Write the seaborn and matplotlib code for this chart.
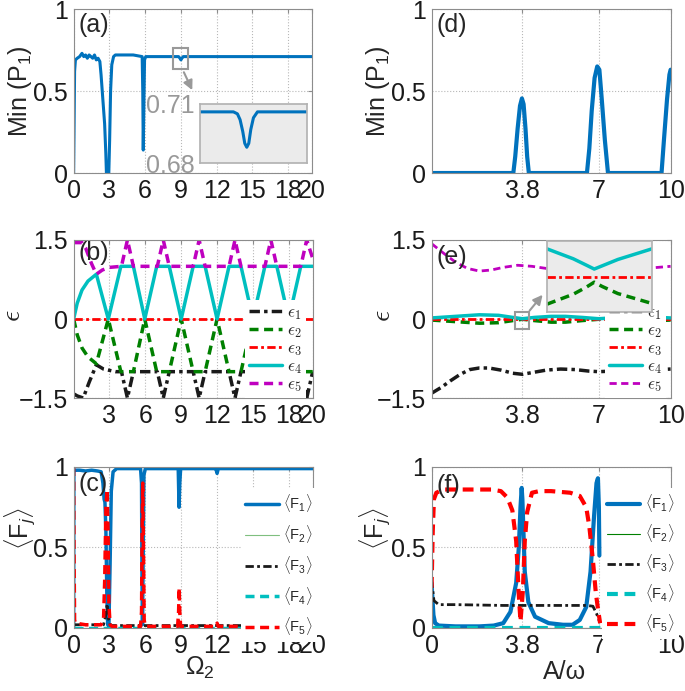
import matplotlib
matplotlib.use("Agg")
import matplotlib.pyplot as plt
from matplotlib.patches import Rectangle
import seaborn as sns

# ---------------- (a) Min(P1) versus Omega_2 ----------------
omega_a = [0, 0.04, 0.08, 0.15, 0.3, 0.5, 0.7, 0.85, 1.0, 1.15, 1.3, 1.45, 1.6, 1.75, 1.9, 2.05,
           2.2, 2.3, 2.45, 2.6, 2.7, 2.75, 2.95, 3.02, 3.1, 3.2, 3.35, 3.5, 4.0, 5.0, 5.75, 5.8,
           5.84, 5.9, 5.95, 6.05, 6.3, 8.8, 8.92, 9.0, 9.08, 9.2, 20]
minp1_a = [0, 0.3, 0.62, 0.69, 0.70, 0.71, 0.73, 0.71, 0.72, 0.70, 0.72, 0.71, 0.70, 0.72, 0.69, 0.70,
           0.68, 0.6, 0.45, 0.3, 0.12, 0.0, 0.0, 0.2, 0.5, 0.66, 0.71, 0.72, 0.72, 0.72, 0.71, 0.5,
           0.14, 0.45, 0.69, 0.71, 0.71, 0.71, 0.70, 0.69, 0.70, 0.71, 0.71]
# inset: zoom on the dip near Omega_2 = 9
omega_ins_a = [8.65, 8.90, 8.93, 8.95, 8.97, 8.985, 9.0, 9.015, 9.03, 9.05, 9.08, 9.45]
minp1_ins_a = [0.706, 0.706, 0.705, 0.702, 0.696, 0.690, 0.688, 0.690, 0.697, 0.703, 0.706, 0.706]

# ---------------- (d) Min(P1) versus A/omega ----------------
aw_d = [0, 3.42, 3.5, 3.6, 3.7, 3.78, 3.85, 3.93, 4.0, 4.07, 6.5, 6.6, 6.7, 6.82, 6.93, 7.02,
        7.12, 7.25, 7.38, 9.62, 9.72, 9.85, 9.95, 10]
minp1_d = [0, 0, 0.1, 0.27, 0.41, 0.455, 0.42, 0.27, 0.1, 0, 0, 0.15, 0.38, 0.58, 0.65, 0.63,
           0.45, 0.2, 0, 0, 0.2, 0.45, 0.6, 0.63]

# ---------------- (b) quasienergies versus Omega_2 ----------------
omega_b1 = [0, 0.3, 0.8, 1.3, 1.9, 2.5, 3.5, 4.0, 4.5, 5.0, 7.0, 7.5, 8.0, 10.0, 10.5, 11.0,
            13.0, 13.5, 14.0, 16.0, 16.5, 17.0, 19.0, 19.5, 20]
eps1_b = [-1.42, -1.46, -1.5, -1.2, -0.87, -0.95, -1.0, -1.0, -1.5, -1.0, -1.0, -1.5, -1.0, -1.0, -1.5, -1.0,
          -1.0, -1.5, -1.0, -1.0, -1.5, -1.0, -1.0, -1.5, -1.0]
omega_b2 = [0, 0.3, 0.7, 1.2, 1.9, 2.9, 3.95, 5.0, 5.95, 6.95, 8.0, 9.0, 10.0, 11.0, 12.0, 13.0,
            14.0, 15.0, 16.0, 17.0, 18.0, 19.0, 20]
eps2_b = [0, -0.3, -0.55, -0.72, -0.85, 0, -1.0, -1.0, 0, -1.0, -1.0, 0, -1.0, -1.0, 0, -1.0,
          -1.0, 0, -1.0, -1.0, 0, -1.0, -1.0]
omega_b3 = [0, 20]
eps3_b = [0, 0]
omega_b4 = [0, 0.3, 0.7, 1.2, 1.9, 2.9, 3.95, 5.0, 5.95, 6.95, 8.0, 9.0, 10.0, 11.0, 12.0, 13.0,
            14.0, 15.0, 16.0, 17.0, 18.0, 19.0, 20]
eps4_b = [0, 0.3, 0.55, 0.72, 0.85, 0, 1.0, 1.0, 0, 1.0, 1.0, 0, 1.0, 1.0, 0, 1.0,
          1.0, 0, 1.0, 1.0, 0, 1.0, 1.0]
omega_b5 = [0, 0.7, 1.0, 1.5, 1.9, 2.4, 3.0, 4.0, 4.5, 5.0, 7.0, 7.5, 8.0, 10.0, 10.5, 11.0,
            13.0, 13.5, 14.0, 16.0, 16.5, 17.0, 19.0, 19.5, 20]
eps5_b = [1.45, 1.45, 1.35, 1.05, 0.85, 0.93, 0.98, 1.0, 1.5, 1.0, 1.0, 1.5, 1.0, 1.0, 1.5, 1.0,
          1.0, 1.5, 1.0, 1.0, 1.5, 1.0, 1.0, 1.5, 1.15]

# ---------------- (e) quasienergies versus A/omega ----------------
aw_e1 = [0, 0.4, 0.8, 1.2, 1.6, 2.0, 2.4, 2.9, 3.4, 3.8, 4.3, 4.8, 5.4, 6.0, 6.6, 7.0,
         7.5, 8.5, 9.5, 10]
eps1_e = [-1.41, -1.3, -1.17, -1.05, -0.96, -0.93, -0.93, -0.97, -1.03, -1.05, -1.01, -0.97, -0.95, -0.96, -0.99, -1.0,
          -0.99, -0.97, -0.96, -0.95]
aw_e2 = [0, 1, 2, 2.8, 3.4, 3.8, 4.3, 5.0, 5.6, 6.3, 7.0, 7.5, 8.5, 9.5, 10]
eps2_e = [-0.02, -0.05, -0.08, -0.07, -0.03, -0.005, -0.03, -0.06, -0.06, -0.03, -0.005, -0.02, -0.04, -0.03, -0.02]
aw_e3 = [0, 10]
eps3_e = [0, 0]
aw_e4 = [0, 1, 2, 2.8, 3.4, 3.8, 4.3, 5.0, 5.6, 6.3, 7.0, 7.5, 8.5, 9.5, 10]
eps4_e = [0.02, 0.05, 0.08, 0.07, 0.03, 0.005, 0.03, 0.05, 0.05, 0.03, 0.005, 0.02, 0.04, 0.03, 0.02]
aw_e5 = [0, 0.5, 1.0, 1.5, 2.0, 2.5, 3.0, 3.6, 4.2, 4.8, 5.5, 6.2, 7.0, 7.8, 8.5, 9.2, 10]
eps5_e = [1.43, 1.25, 1.08, 0.96, 0.91, 0.93, 0.98, 1.02, 1.0, 0.96, 0.93, 0.95, 0.99, 0.98, 0.96, 0.97, 1.0]
# inset: avoided crossing near A/omega = 3.8
aw_ins_e = [3.6, 3.7, 3.75, 3.78, 3.81, 3.87, 4.0]
eps4_ins_e = [0.0078, 0.0050, 0.0032, 0.0021, 0.0030, 0.0048, 0.0078]
eps3_ins_e = [0, 0, 0, 0, 0, 0, 0]
eps2_ins_e = [-0.0078, -0.0050, -0.0030, -0.0016, -0.0028, -0.0048, -0.0076]

# ---------------- (c) time averaged populations versus Omega_2 ----------------
omega_c1 = [0, 0.02, 0.1, 0.5, 1.0, 1.5, 2.0, 2.3, 2.45, 2.55, 2.62, 2.7, 2.78, 2.85, 2.95, 3.05,
            3.15, 3.3, 3.6, 5.6, 5.68, 5.72, 5.76, 5.8, 5.88, 6.0, 8.75, 8.82, 8.88, 8.95, 11.8, 11.9,
            12.0, 12.1, 20]
f1_c = [0, 0.97, 0.98, 0.98, 0.975, 0.98, 0.975, 0.97, 0.9, 0.8, 0.78, 0.6, 0.2, 0.02, 0.01, 0.4,
        0.85, 0.97, 0.99, 0.99, 0.9, 0.3, 0.02, 0.3, 0.95, 0.99, 0.99, 0.75, 0.9, 0.99, 0.99, 0.99,
        0.96, 0.99, 0.99]
omega_c2 = [0, 20]
f2_c = [0, 0]
omega_c3 = [0, 2.5, 2.7, 2.8, 2.9, 3.1, 20]
f3_c = [0.02, 0.02, 0.08, 0.15, 0.06, 0.015, 0.015]
omega_c4 = [0, 20]
f4_c = [0.002, 0.002]
omega_c5 = [0, 0.03, 0.08, 0.15, 1.0, 2.3, 2.5, 2.6, 2.7, 2.8, 2.88, 2.95, 3.05, 3.2, 5.6, 5.68,
            5.73, 5.78, 5.84, 5.9, 6.0, 8.7, 8.78, 8.83, 8.88, 8.95, 11.9, 12.0, 12.1, 20]
f5_c = [1.0, 0.5, 0.05, 0.03, 0.02, 0.02, 0.05, 0.3, 0.75, 0.86, 0.6, 0.15, 0.02, 0.01, 0.01, 0.1,
        0.6, 0.9, 0.5, 0.05, 0.01, 0.01, 0.1, 0.25, 0.1, 0.01, 0.01, 0.03, 0.01, 0.01]

# ---------------- (f) time averaged populations versus A/omega ----------------
aw_f1a = [0, 0.03, 0.08, 0.15, 0.3, 1.0, 2.0, 2.6, 3.0, 3.3, 3.54, 3.65, 3.72, 3.77, 3.8, 3.84,
          3.9, 4.05, 4.33, 4.9, 5.5, 5.9, 6.2, 6.47, 6.65, 6.8, 6.9, 6.96, 7.0, 7.02]
f1_fa = [0.28, 0.2, 0.08, 0.03, 0.015, 0.01, 0.01, 0.015, 0.03, 0.1, 0.28, 0.5, 0.75, 0.87, 0.8, 0.62,
         0.35, 0.16, 0.07, 0.03, 0.02, 0.02, 0.05, 0.13, 0.35, 0.7, 0.9, 0.93, 0.75, 0.45]
aw_f1b = [7.38, 7.5, 7.73, 8.0, 8.3, 9.0, 9.4, 9.62]
f1_fb = [0.1, 0.07, 0.04, 0.03, 0.02, 0.02, 0.05, 0.1]
aw_f1c = [9.96, 10]
f1_fc = [0.47, 0.62]
aw_f2 = [0, 10]
f2_f = [0, 0]
aw_f3 = [0, 0.1, 0.3, 1.0, 3.0, 5.0, 6.5, 6.75, 6.9, 7.05]
f3_f = [0.3, 0.17, 0.145, 0.145, 0.14, 0.14, 0.14, 0.135, 0.09, 0.03]
aw_f4 = [0, 10]
f4_f = [0, 0]
aw_f5a = [0, 0.05, 0.1, 0.2, 0.5, 1.5, 2.5, 2.9, 3.17, 3.38, 3.54, 3.64, 3.72, 3.82, 3.9, 4.0,
          4.2, 4.5, 5.0, 5.8, 6.2, 6.47, 6.6, 6.75, 6.87, 6.96, 7.05]
f5_fa = [0.25, 0.6, 0.8, 0.84, 0.86, 0.86, 0.86, 0.85, 0.81, 0.73, 0.54, 0.23, 0.04, 0.23, 0.54, 0.72,
         0.84, 0.85, 0.85, 0.84, 0.82, 0.75, 0.63, 0.42, 0.22, 0.12, 0.03]
aw_f5b = [9.97, 10]
f5_fb = [0.03, 0.55]

blue = "#0072BD"
green = "#008000"
red = "#FF0000"
cyan = "#00BFBF"
magenta = "#BF00BF"
pale_green = "#7fbf7f"
grey = "0.6"

sns.set_theme(style="white")
plt.rcParams["font.family"] = ["Liberation Sans", "DejaVu Sans"]
plt.rcParams["mathtext.fontset"] = "custom"
plt.rcParams["mathtext.rm"] = "Liberation Sans"
plt.rcParams["mathtext.it"] = "Liberation Sans:italic"
plt.rcParams["mathtext.bf"] = "Liberation Sans:bold"

DASH = (0, (2.6, 1.6))
DASHDOT = (0, (3, 1.2, 1, 1.2))
TICKSIZE = 18
LABELSIZE = 18


def line(ax, x, y, **kw):
    sns.lineplot(x=x, y=y, ax=ax, estimator=None, sort=False, **kw)


def style(ax, xlim, xticks, xlabels, ylim, yticks, ylabels):
    ax.set_xlim(xlim)
    ax.set_ylim(ylim)
    ax.set_xticks(xticks, labels=xlabels)
    ax.set_yticks(yticks, labels=ylabels)
    ax.grid(True, linestyle=":", color="0.72", linewidth=0.8)
    for s in ax.spines.values():
        s.set_color("0.55")
        s.set_linewidth(0.8)
    ax.tick_params(direction="in", length=3, width=0.8, color="0.55", labelsize=TICKSIZE,
                   pad=4, top=True, right=True, labelcolor="0.1")


def panel(ax, txt, y):
    ax.text(0.02, y, txt, transform=ax.transAxes, fontsize=LABELSIZE, va="center", ha="left")


def eps_legend(ax, x0):
    ax.legend(loc="lower left", bbox_to_anchor=(x0, 0.0), prop=dict(size=12.5, math_fontfamily="cm"),
              handlelength=1.9, handletextpad=0.3, labelspacing=0.05, borderpad=0.25, borderaxespad=0,
              frameon=True, facecolor="white", edgecolor="none", framealpha=1, fancybox=False)


def pop_legend(ax, x0, spacing):
    ax.legend(loc="upper left", bbox_to_anchor=(x0, 0.87), prop=dict(size=10.5),
              handlelength=2.3, handletextpad=0.3, labelspacing=spacing, borderpad=0.3, borderaxespad=0,
              frameon=True, facecolor="white", edgecolor="none", framealpha=1, fancybox=False)


fig = plt.figure(figsize=(6.85, 6.91), dpi=100)
L, R, W = 0.1075, 0.6300, 0.349
ax_a = fig.add_axes([L, 0.7496, W - 0.001, 0.2373])
ax_d = fig.add_axes([R, 0.7496, W, 0.2373])
ax_b = fig.add_axes([L, 0.4240, W, 0.2287])
ax_e = fig.add_axes([R, 0.4240, W, 0.2287])
ax_c = fig.add_axes([L, 0.0912, W, 0.2330])
ax_f = fig.add_axes([R, 0.0912, W, 0.2330])

om_ticks = [0, 3, 6, 9, 12, 15, 18, 20]
aw_ticks = [3.8, 7, 10]

# ---- (a)
line(ax_a, omega_a, minp1_a, color=blue, linewidth=2.2)
style(ax_a, (0, 20), om_ticks, [str(t) for t in om_ticks], (0, 1), [0, 0.5, 1], ["0", "0.5", "1"])
ax_a.set_ylabel("Min (P$_1$)", fontsize=LABELSIZE)
ax_a.yaxis.set_label_coords(-0.165, 0.5)
panel(ax_a, "(a)", 0.9)
ax_a.add_patch(Rectangle((8.35, 0.634), 1.25, 0.126, fill=False, edgecolor=grey, linewidth=1.5, zorder=5))
ax_a.annotate("", xy=(10.05, 0.49), xytext=(9.15, 0.63),
              arrowprops=dict(arrowstyle="-|>", color=grey, lw=1.5, mutation_scale=14))
ins_a = fig.add_axes([0.292, 0.7641, 0.156, 0.0854])
line(ins_a, omega_ins_a, minp1_ins_a, color=blue, linewidth=2.2)
ins_a.set_facecolor("#ebebeb")
ins_a.set_xlim(8.65, 9.45)
ins_a.set_ylim(0.68, 0.71)
ins_a.set_xticks([])
ins_a.set_yticks([0.68, 0.71], labels=["0.68", "0.71"])
ins_a.tick_params(length=0, pad=4, labelsize=LABELSIZE, labelcolor=grey)
for s in ins_a.spines.values():
    s.set_color("0.7")

# ---- (d)
line(ax_d, aw_d, minp1_d, color=blue, linewidth=3)
style(ax_d, (0, 10), aw_ticks, ["3.8", "7", "10"], (0, 1), [0, 0.5, 1], ["0", "0.5", "1"])
ax_d.set_ylabel("Min (P$_1$)", fontsize=LABELSIZE)
ax_d.yaxis.set_label_coords(-0.165, 0.5)
panel(ax_d, "(d)", 0.9)

# ---- (b)
line(ax_b, omega_b1, eps1_b, color="k", linewidth=2.5, linestyle=DASHDOT, label=r"$\epsilon_1$")
line(ax_b, omega_b2, eps2_b, color=green, linewidth=2.5, linestyle=DASH, label=r"$\epsilon_2$")
line(ax_b, omega_b3, eps3_b, color=red, linewidth=2, linestyle=DASHDOT, label=r"$\epsilon_3$")
line(ax_b, omega_b4, eps4_b, color=cyan, linewidth=2.5, label=r"$\epsilon_4$")
line(ax_b, omega_b5, eps5_b, color=magenta, linewidth=2.5, linestyle=DASH, label=r"$\epsilon_5$")
style(ax_b, (0, 20), om_ticks[1:], [str(t) for t in om_ticks[1:]], (-1.5, 1.5), [-1.5, 0, 1.5],
      ["\u22121.5", "0", "1.5"])
ax_b.set_ylabel(r"$\epsilon$", fontsize=LABELSIZE + 2, math_fontfamily="cm")
ax_b.yaxis.set_label_coords(-0.2, 0.52)
panel(ax_b, "(b)", 0.92)
eps_legend(ax_b, 0.715)

# ---- (e)
line(ax_e, aw_e1, eps1_e, color="k", linewidth=2.5, linestyle=DASHDOT, label=r"$\epsilon_1$")
line(ax_e, aw_e2, eps2_e, color=green, linewidth=2.5, linestyle=DASH, label=r"$\epsilon_2$")
line(ax_e, aw_e3, eps3_e, color=red, linewidth=2, linestyle=DASHDOT, label=r"$\epsilon_3$")
line(ax_e, aw_e4, eps4_e, color=cyan, linewidth=2.5, label=r"$\epsilon_4$")
line(ax_e, aw_e5, eps5_e, color=magenta, linewidth=2, linestyle=DASH, label=r"$\epsilon_5$")
style(ax_e, (0, 10), aw_ticks, ["3.8", "7", "10"], (-1.5, 1.5), [-1.5, 0, 1.5],
      ["\u22121.5", "0", "1.5"])
ax_e.set_ylabel(r"$\epsilon$", fontsize=LABELSIZE + 2, math_fontfamily="cm")
ax_e.yaxis.set_label_coords(-0.15, 0.52)
panel(ax_e, "(e)", 0.89)
eps_legend(ax_e, 0.725)
ax_e.add_patch(Rectangle((3.5, -0.19), 0.57, 0.33, fill=False, edgecolor=grey, linewidth=1.5, zorder=5))
ax_e.annotate("", xy=(4.72, 0.5), xytext=(4.03, 0.12),
              arrowprops=dict(arrowstyle="-|>", color=grey, lw=1.5, mutation_scale=14))
ins_e = fig.add_axes([0.7985, 0.5485, 0.1533, 0.1027])
line(ins_e, aw_ins_e, eps4_ins_e, color=cyan, linewidth=2.5)
line(ins_e, aw_ins_e, eps3_ins_e, color=red, linewidth=2, linestyle=DASHDOT)
line(ins_e, aw_ins_e, eps2_ins_e, color=green, linewidth=2.5, linestyle=DASH)
ins_e.set_facecolor("#ebebeb")
ins_e.set_xlim(3.6, 4.0)
ins_e.set_ylim(-0.01, 0.01)
ins_e.set_xticks([])
ins_e.set_yticks([])
for s in ins_e.spines.values():
    s.set_color("0.7")

# ---- (c)
line(ax_c, omega_c1, f1_c, color=blue, linewidth=2.5, label=r"$\langle$F$_1\rangle$")
line(ax_c, omega_c2, f2_c, color=pale_green, linewidth=0.8, label=r"$\langle$F$_2\rangle$")
line(ax_c, omega_c3, f3_c, color="k", linewidth=2, linestyle=DASHDOT, label=r"$\langle$F$_3\rangle$")
line(ax_c, omega_c4, f4_c, color=cyan, linewidth=2.5, linestyle=DASH, label=r"$\langle$F$_4\rangle$")
line(ax_c, omega_c5, f5_c, color=red, linewidth=2.5, linestyle=DASH, label=r"$\langle$F$_5\rangle$")
style(ax_c, (0, 20), om_ticks, [str(t) for t in om_ticks], (0, 1), [0, 0.5, 1], ["0", "0.5", "1"])
ax_c.set_ylabel(r"$\langle$F$_j\rangle$", fontsize=LABELSIZE)
ax_c.yaxis.set_label_coords(-0.15, 0.62)
ax_c.set_xlabel("\u03a9$_2$", fontsize=LABELSIZE)
ax_c.xaxis.set_label_coords(0.53, -0.165)
panel(ax_c, "(c)", 0.895)
pop_legend(ax_c, 0.70, 0.6)

# ---- (f)
line(ax_f, aw_f1a, f1_fa, color=blue, linewidth=3, label=r"$\langle$F$_1\rangle$")
line(ax_f, aw_f1b, f1_fb, color=blue, linewidth=3)
line(ax_f, aw_f1c, f1_fc, color=blue, linewidth=3)
line(ax_f, aw_f2, f2_f, color=green, linewidth=0.8, label=r"$\langle$F$_2\rangle$")
line(ax_f, aw_f3, f3_f, color="k", linewidth=2, linestyle=DASHDOT, label=r"$\langle$F$_3\rangle$")
line(ax_f, aw_f4, f4_f, color=cyan, linewidth=3, linestyle=DASH, label=r"$\langle$F$_4\rangle$")
line(ax_f, aw_f5a, f5_fa, color=red, linewidth=3, linestyle=DASH, label=r"$\langle$F$_5\rangle$")
line(ax_f, aw_f5b, f5_fb, color=red, linewidth=3, linestyle=DASH)
style(ax_f, (0, 10), [0, 3.8, 7, 10], ["0", "3.8", "7", "10"], (0, 1), [0, 0.5, 1], ["0", "0.5", "1"])
ax_f.set_ylabel(r"$\langle$F$_j\rangle$", fontsize=LABELSIZE)
ax_f.yaxis.set_label_coords(-0.16, 0.62)
ax_f.set_xlabel("A/\u03c9", fontsize=LABELSIZE)
ax_f.xaxis.set_label_coords(0.556, -0.2)
panel(ax_f, "(f)", 0.88)
pop_legend(ax_f, 0.715, 0.55)

fig.savefig("out.png", dpi=100)
